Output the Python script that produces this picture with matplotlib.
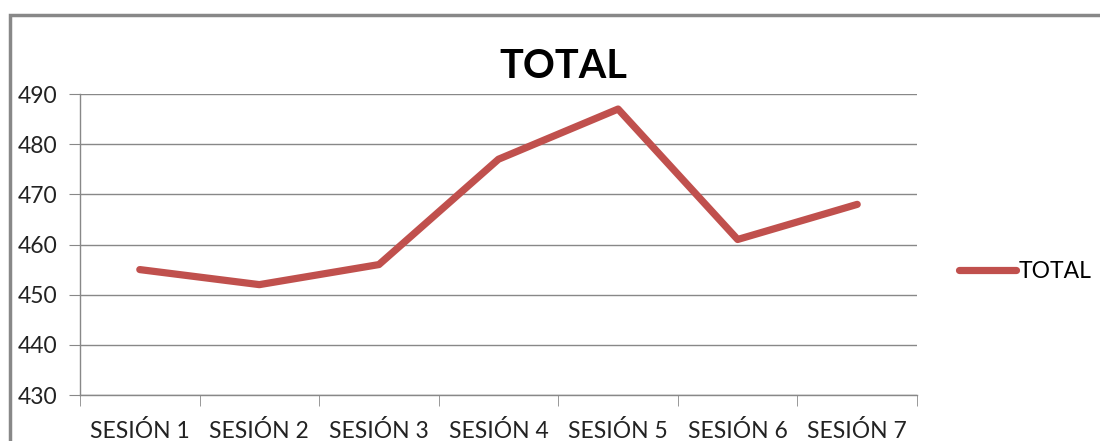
import matplotlib.pyplot as plt
from matplotlib.lines import Line2D

# Data
sesiones = ['SESIÓN 1', 'SESIÓN 2', 'SESIÓN 3', 'SESIÓN 4', 'SESIÓN 5', 'SESIÓN 6', 'SESIÓN 7']
total = [455, 452, 456, 477, 487, 461, 468]
y_ticks = [430, 440, 450, 460, 470, 480, 490]

plt.rcParams['font.family'] = ['Lato', 'DejaVu Sans']

fig = plt.figure(figsize=(11, 4.41), dpi=100)
ax = fig.add_axes([80 / 1100, 1 - 395 / 441, 837 / 1100, 301 / 441])

x = list(range(len(sesiones)))
ax.plot(x, total, color='#C0504D', linewidth=5.2, solid_capstyle='round',
        solid_joinstyle='round', label='TOTAL')

ax.set_xlim(-0.5, len(sesiones) - 0.5)
ax.set_ylim(430, 490)
ax.set_yticks(y_ticks)
ax.set_xticks(x)
ax.set_xticklabels(sesiones)
ax.set_xticks([i - 0.5 for i in range(len(sesiones) + 1)], minor=True)
ax.tick_params(axis='x', which='major', length=0, pad=18, labelsize=16.5, colors='#222222')
ax.tick_params(axis='x', which='minor', length=8, color='#888888')
ax.tick_params(axis='y', length=8, color='#888888', labelsize=16.5, labelcolor='#222222', pad=8)
ax.grid(axis='y', color='#888888', linewidth=1)
ax.set_axisbelow(True)
for s in ['top', 'right']:
    ax.spines[s].set_visible(False)
for s in ['left', 'bottom']:
    ax.spines[s].set_color('#888888')
    ax.spines[s].set_linewidth(1)

fig.text(563 / 1100, 1 - 66 / 441, 'TOTAL', ha='center', va='center',
         fontsize=28.5, fontweight='bold', color='black')

ax.legend(loc='center left', bbox_to_anchor=(950 / 837 - 80 / 837, (395 - 272) / 301),
          frameon=False, fontsize=16.5, handlelength=2.5, handletextpad=0.1,
          borderaxespad=0)

# outer chart border (top and left only; the rest is cut off in the reference)
top = 1 - 15 / 441
left = 10 / 1100
fig.add_artist(Line2D([left, left, 1.0], [0, top, top], transform=fig.transFigure,
                      color='#888888', linewidth=2.5, solid_joinstyle='miter'))

fig.savefig('out.png', dpi=100)
